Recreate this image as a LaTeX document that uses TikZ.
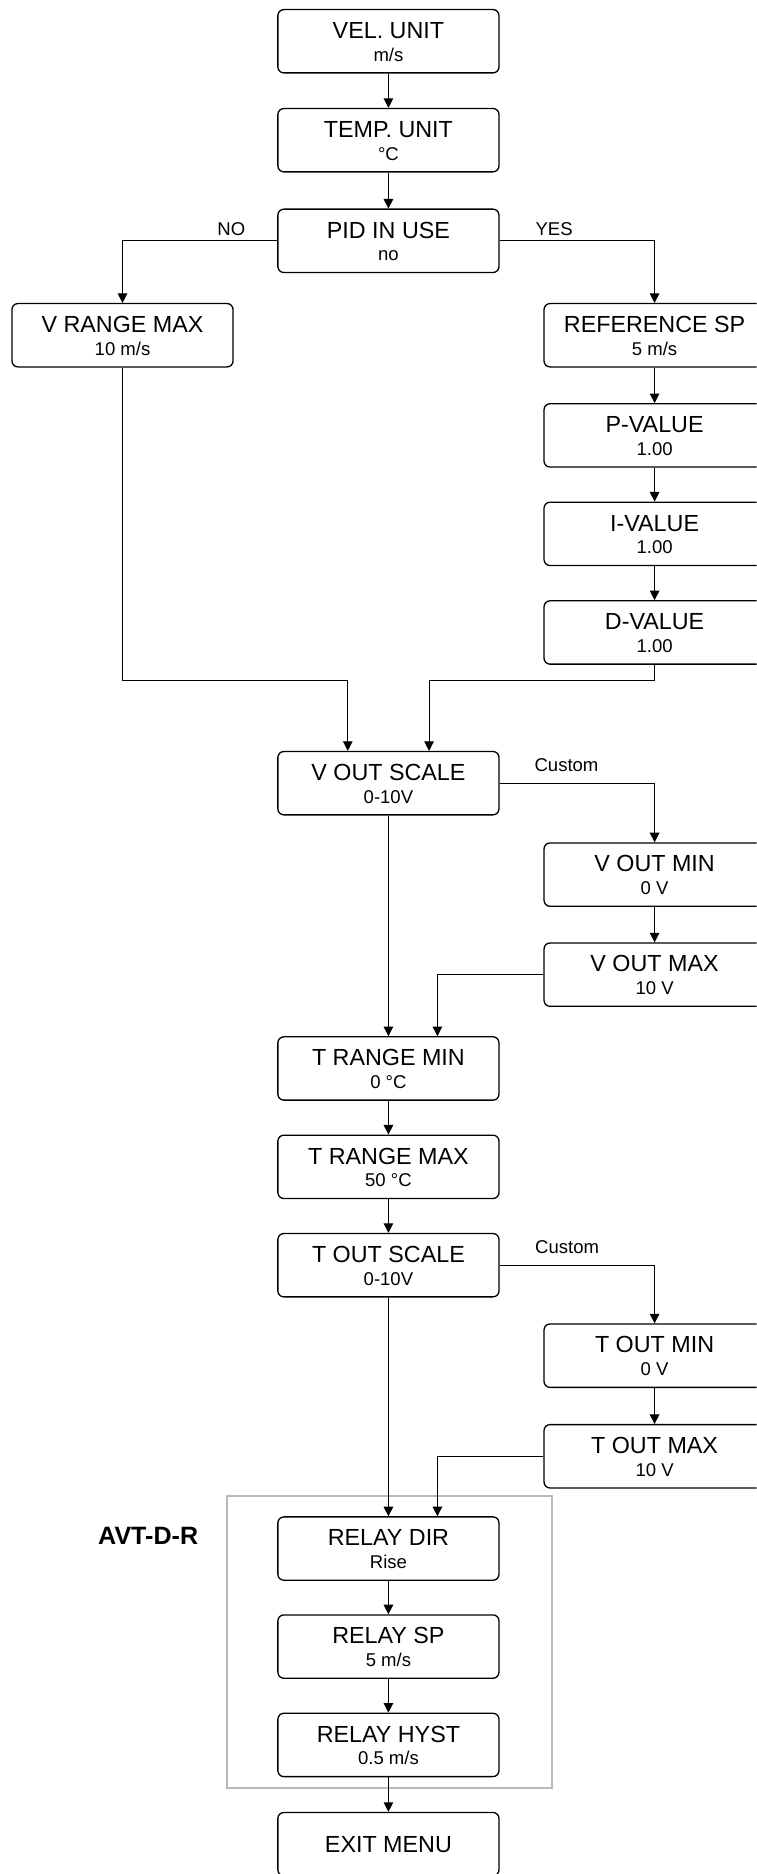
\documentclass[tikz,border=0pt]{standalone}
\usepackage{fontspec}
\setmainfont{Liberation Sans}
\usetikzlibrary{arrows.meta}
\newcommand\menutxt[2]{\rule{0pt}{17.4pt}#1\\{\fontsize{15.5}{19}\selectfont\rule[-3pt]{0pt}{3pt}#2}}
\tikzset{
  menubox/.style={draw, line width=1.1pt, rounded corners=5pt, minimum width=185pt,
    minimum height=53pt, inner sep=0pt, align=center, font=\fontsize{19.5}{19}\selectfont},
  arr/.style={line width=0.9pt, -{Triangle[length=8pt,width=8pt]}},
  lbl/.style={font=\fontsize{15.5}{18}\selectfont, inner sep=0pt},
  group/.style={draw=black!27, line width=1.7pt}
}
\begin{document}
\begin{tikzpicture}[x=1pt, y=-1pt]
    \clip (0,0) rectangle (633,1568);
    % main column
    \node[menubox] (vel) at (325,34.5) {\menutxt{VEL. UNIT}{m/s}};
    \node[menubox] (temp) at (325,117.3) {\menutxt{TEMP. UNIT}{°C}};
    \node[menubox] (pid) at (325,201.5) {\menutxt{PID IN USE}{no}};
    % PID branch
    \node[menubox] (vrange) at (102.5,280.5) {\menutxt{V RANGE MAX}{10 m/s}};
    \node[menubox] (refsp) at (547.7,280.5) {\menutxt{REFERENCE SP}{5 m/s}};
    \node[menubox] (pval) at (547.7,364.3) {\menutxt{P-VALUE}{1.00}};
    \node[menubox] (ival) at (547.7,446.7) {\menutxt{I-VALUE}{1.00}};
    \node[menubox] (dval) at (547.7,529.2) {\menutxt{D-VALUE}{1.00}};
    % velocity output
    \node[menubox] (vscale) at (325,655.3) {\menutxt{V OUT SCALE}{0-10V}};
    \node[menubox] (voutmin) at (547.7,731.8) {\menutxt{V OUT MIN}{0 V}};
    \node[menubox] (voutmax) at (547.7,815.5) {\menutxt{V OUT MAX}{10 V}};
    % temperature output
    \node[menubox] (trmin) at (325,894) {\menutxt{T RANGE MIN}{0 °C}};
    \node[menubox] (trmax) at (325,976.3) {\menutxt{T RANGE MAX}{50 °C}};
    \node[menubox] (tscale) at (325,1058.6) {\menutxt{T OUT SCALE}{0-10V}};
    \node[menubox] (toutmin) at (547.7,1134.3) {\menutxt{T OUT MIN}{0 V}};
    \node[menubox] (toutmax) at (547.7,1218.5) {\menutxt{T OUT MAX}{10 V}};
    % relay (AVT-D-R only)
    \draw[group] (190,1252) rectangle (461.5,1496);
    \node[font=\fontsize{21}{24}\selectfont\bfseries, inner sep=0pt] (avt) at (124,1285) {AVT-D-R};
    \node[menubox] (rdir) at (325,1295.7) {\menutxt{RELAY DIR}{Rise}};
    \node[menubox] (rsp) at (325,1377.7) {\menutxt{RELAY SP}{5 m/s}};
    \node[menubox] (rhyst) at (325,1460) {\menutxt{RELAY HYST}{0.5 m/s}};
    \node[menubox] (exit) at (325,1543) {EXIT MENU};
    % labels
    \node[lbl] (no) at (193.6,192) {NO};
    \node[lbl] (yes) at (463.6,192) {YES};
    \node[lbl] (vcust) at (474,640) {Custom};
    \node[lbl] (tcust) at (474.5,1043.3) {Custom};
    % connectors
    \draw[arr] (vel) -- (temp);
    \draw[arr] (temp) -- (pid);
    \draw[arr] (pid.west) -| (vrange);
    \draw[arr] (pid.east) -| (refsp);
    \draw[arr] (refsp) -- (pval);
    \draw[arr] (pval) -- (ival);
    \draw[arr] (ival) -- (dval);
    \coordinate (jno) at (291,569);
    \coordinate (jyes) at (359,569);
    \draw[arr] (vrange.south) |- (jno) -- (jno |- vscale.north);
    \draw[arr] (dval.south) |- (jyes) -- (jyes |- vscale.north);
    \draw[arr] (vscale.east) -| (voutmin);
    \draw[arr] (voutmin) -- (voutmax);
    \draw[arr] (vscale) -- (trmin);
    \draw[arr] (voutmax.west) -| ([xshift=41pt]trmin.north);
    \draw[arr] (trmin) -- (trmax);
    \draw[arr] (trmax) -- (tscale);
    \draw[arr] (tscale.east) -| (toutmin);
    \draw[arr] (toutmin) -- (toutmax);
    \draw[arr] (tscale) -- (rdir);
    \draw[arr] (toutmax.west) -| ([xshift=41pt]rdir.north);
    \draw[arr] (rdir) -- (rsp);
    \draw[arr] (rsp) -- (rhyst);
    \draw[arr] (rhyst) -- (exit);
\end{tikzpicture}
\end{document}
